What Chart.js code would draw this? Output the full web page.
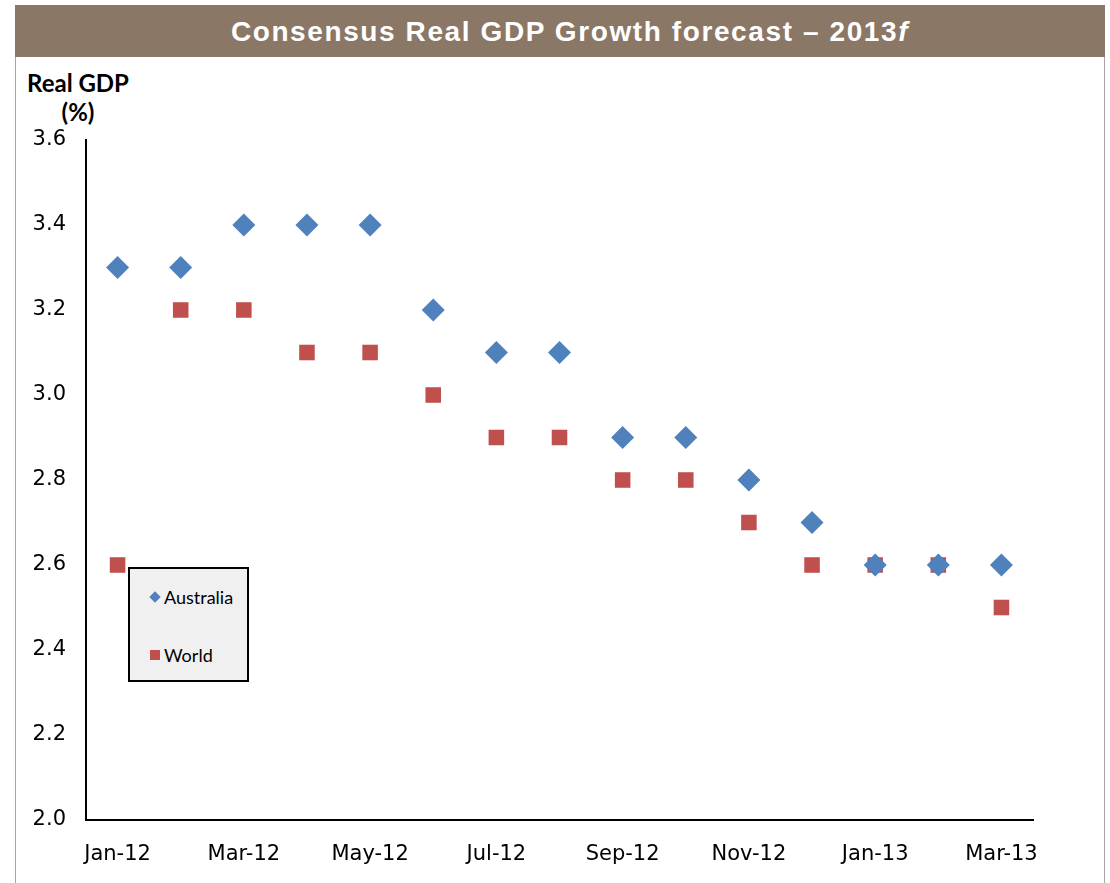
<!DOCTYPE html>
<html>
<head>
<meta charset="utf-8">
<script src="https://cdn.jsdelivr.net/npm/chart.js@4"></script>
<style>
  body { margin: 0; background: #fff; width: 1110px; height: 883px; overflow: hidden; position: relative; }
  #frame { position: absolute; left: 15px; top: 5px; width: 1088px; height: 900px; border-left: 1px solid #a6a6a6; border-right: 1px solid #a6a6a6; }
  #title { position: absolute; left: 15px; top: 5px; width: 1070px; padding-left: 20px; height: 52px; background: #8B7765; color: #fff;
           font: bold 28px "Liberation Sans", Arial, sans-serif; letter-spacing: 1.6px; text-align: center; line-height: 54px; }
  #ylab { position: absolute; left: 19px; top: 68px; width: 118px; text-align: center; font: bold 24px Lato, "Open Sans", sans-serif; line-height: 29px; color: #000; }
  #wrap { position: absolute; left: 0; top: 60px; width: 1110px; height: 823px; }
  #legend { position: absolute; left: 128px; top: 567px; width: 117px; height: 111px; background: #f0f0f0; border: 2px solid #000; font: 18px Lato, sans-serif; color: #000; }
  #legend .item { position: absolute; left: 20px; display: flex; align-items: center; }
  #legend .mk { width: 10px; height: 10px; margin-right: 4px; }
</style>
</head>
<body>
<div id="frame"></div>
<div id="title">Consensus Real GDP Growth forecast – 2013<i>f</i></div>
<div id="ylab">Real GDP<br>(%)</div>
<div id="wrap"><canvas id="myChart"></canvas></div>
<div id="legend"></div>
<script>
const months = ["Jan-12", "Feb-12", "Mar-12", "Apr-12", "May-12", "Jun-12", "Jul-12", "Aug-12",
                "Sep-12", "Oct-12", "Nov-12", "Dec-12", "Jan-13", "Feb-13", "Mar-13"];
const australia = [3.3, 3.3, 3.4, 3.4, 3.4, 3.2, 3.1, 3.1, 2.9, 2.9, 2.8, 2.7, 2.6, 2.6, 2.6];
const world = [2.6, 3.2, 3.2, 3.1, 3.1, 3.0, 2.9, 2.9, 2.8, 2.8, 2.7, 2.6, 2.6, 2.6, 2.5];
const yTicks = [2.0, 2.2, 2.4, 2.6, 2.8, 3.0, 3.2, 3.4, 3.6];

const blue = '#4F81BD';
const red = '#C0504D';
const tickFont = { family: '"DejaVu Sans", Verdana, sans-serif', size: 21 };

const ctx = document.getElementById('myChart').getContext('2d');
const myChart = new Chart(ctx, {
    type: 'line',
    data: {
        labels: months,
        datasets: [{
            label: 'Australia',
            data: australia,
            showLine: false,
            pointStyle: 'rectRot',
            pointRadius: 11.5,
            pointBackgroundColor: blue,
            pointBorderColor: blue,
            pointBorderWidth: 0
        }, {
            label: 'World',
            data: world,
            showLine: false,
            pointStyle: 'rect',
            pointRadius: 11,
            pointBackgroundColor: red,
            pointBorderColor: red,
            pointBorderWidth: 0
        }]
    },
    options: {
        responsive: true,
        maintainAspectRatio: false,
        animation: false,
        layout: { padding: { left: 0, right: 77, top: 80, bottom: 0 } },
        plugins: { legend: { display: false }, tooltip: { enabled: false } },
        scales: {
            x: {
                offset: true,
                grid: { display: false, drawTicks: false },
                border: { display: true, color: '#000', width: 2 },
                ticks: {
                    autoSkip: false, maxRotation: 0, padding: 22, color: '#000', font: tickFont,
                    callback: function(v, i) { return i % 2 === 0 ? months[i] : ''; }
                },
                afterFit: function(s) { s.height = 63; }
            },
            y: {
                min: 2.0, max: 3.6,
                grid: { display: false, drawTicks: false },
                border: { display: true, color: '#000', width: 2 },
                afterBuildTicks: function(s) { s.ticks = yTicks.map(v => ({ value: v })); },
                ticks: {
                    padding: 20, color: '#000', font: tickFont,
                    callback: function(v) { return Number(v).toFixed(1); }
                },
                afterFit: function(s) { s.width = 86; }
            }
        }
    }
});

// legend box like the original
const legend = document.getElementById('legend');
myChart.data.datasets.forEach(function(ds, i) {
    const item = document.createElement('div');
    item.className = 'item';
    item.style.top = (i === 0 ? 17 : 75) + 'px';
    const mk = document.createElement('span');
    mk.className = 'mk';
    mk.style.background = ds.pointBackgroundColor;
    if (ds.pointStyle === 'rectRot') {
        mk.style.transform = 'rotate(45deg) scale(0.8)';
    }
    item.appendChild(mk);
    item.appendChild(document.createTextNode(ds.label));
    legend.appendChild(item);
});
</script>
</body>
</html>
